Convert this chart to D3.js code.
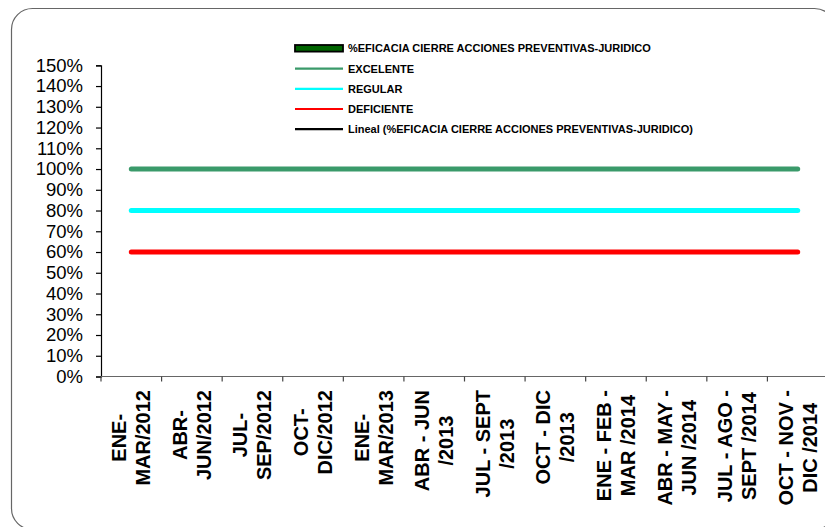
<!DOCTYPE html>
<html>
<head>
<meta charset="utf-8">
<script src="https://cdn.jsdelivr.net/npm/d3@7"></script>
<style>
  html, body { margin: 0; padding: 0; background: #fff; }
  svg { display: block; }
  text { font-family: "Liberation Sans", Arial, sans-serif; }
</style>
</head>
<body>
<svg id="chart" width="825" height="527"></svg>
<script>
// ---- data ----
const categories = [
  "ENE-\nMAR/2012", "ABR-\nJUN/2012", "JUL-\nSEP/2012", "OCT-\nDIC/2012",
  "ENE-\nMAR/2013", "ABR - JUN\n/2013", "JUL - SEPT\n/2013", "OCT - DIC\n/2013",
  "ENE - FEB -\nMAR /2014", "ABR - MAY -\nJUN /2014", "JUL - AGO -\nSEPT /2014", "OCT - NOV -\nDIC /2014"
];
const eficacia   = [null, null, null, null, null, null, null, null, null, null, null, null];
const excelente  = [1.0, 1.0, 1.0, 1.0, 1.0, 1.0, 1.0, 1.0, 1.0, 1.0, 1.0, 1.0];
const regular    = [0.8, 0.8, 0.8, 0.8, 0.8, 0.8, 0.8, 0.8, 0.8, 0.8, 0.8, 0.8];
const deficiente = [0.6, 0.6, 0.6, 0.6, 0.6, 0.6, 0.6, 0.6, 0.6, 0.6, 0.6, 0.6];
const yTicks = [0, 0.1, 0.2, 0.3, 0.4, 0.5, 0.6, 0.7, 0.8, 0.9, 1.0, 1.1, 1.2, 1.3, 1.4, 1.5];
const legendLabels = [
  "%EFICACIA CIERRE ACCIONES PREVENTIVAS-JURIDICO",
  "EXCELENTE",
  "REGULAR",
  "DEFICIENTE",
  "Lineal (%EFICACIA CIERRE ACCIONES PREVENTIVAS-JURIDICO)"
];

// ---- layout ----
const svg = d3.select("#chart");
const plot = { left: 101, top: 65.3, right: 828, bottom: 376.5 };

svg.append("rect")
  .attr("x", 11.5).attr("y", 8.5)
  .attr("width", 824).attr("height", 521)
  .attr("rx", 21).attr("ry", 21)
  .attr("fill", "#fff").attr("stroke", "#666").attr("stroke-width", 1.2);

const x = d3.scaleBand().domain(d3.range(categories.length)).range([plot.left, plot.right]).padding(0);
const y = d3.scaleLinear().domain([0, 1.5]).range([plot.bottom, plot.top]);

// y axis
const yAxis = d3.axisLeft(y).tickValues(yTicks).tickFormat(d3.format(".0%")).tickSize(5).tickPadding(13);
const gy = svg.append("g").attr("transform", `translate(${plot.left},0)`).call(yAxis);
gy.select(".domain").attr("stroke", "#000").attr("stroke-width", 1.2);
gy.selectAll(".tick line").attr("stroke", "#000").attr("stroke-width", 1.2);
gy.selectAll(".tick text").attr("font-size", "18.5px").attr("fill", "#000")
  .style("font-family", '"Liberation Sans", Arial, sans-serif');

// x axis line and ticks at band boundaries
const gx = svg.append("g");
gx.append("line")
  .attr("x1", plot.left).attr("x2", plot.right)
  .attr("y1", plot.bottom).attr("y2", plot.bottom)
  .attr("stroke", "#666").attr("stroke-width", 1.2);
gx.selectAll("line.tk").data(d3.range(categories.length + 1)).join("line")
  .attr("class", "tk")
  .attr("x1", i => plot.left + i * x.bandwidth())
  .attr("x2", i => plot.left + i * x.bandwidth())
  .attr("y1", plot.bottom).attr("y2", plot.bottom + 5)
  .attr("stroke", "#444").attr("stroke-width", 1.2);

// x labels: rotated, two lines, block top-aligned near axis, lines centered
const labelTop = 390;
const lineGap = 24;
categories.forEach((c, i) => {
  const lines = c.split("\n");
  const cx = x(i) + x.bandwidth() / 2;
  const g = gx.append("g");
  const texts = lines.map((ln, j) => g.append("text")
    .text(ln)
    .attr("font-size", "20px").attr("font-weight", "bold").attr("fill", "#000")
    .attr("text-anchor", "middle"));
  const maxW = d3.max(texts, t => t.node().getComputedTextLength());
  const cy = labelTop + maxW / 2;
  texts.forEach((t, j) => {
    const off = (j - (lines.length - 1) / 2) * lineGap;
    const px = cx + off + 7;
    t.attr("transform", `translate(${px},${cy}) rotate(-90)`);
  });
});

// series lines
const line = d3.line()
  .defined(d => d != null)
  .x((d, i) => x(i) + x.bandwidth() / 2)
  .y(d => y(d));

const seriesDefs = [
  { data: excelente, color: "#3a9a6a" },
  { data: regular, color: "#00ffff" },
  { data: deficiente, color: "#ff0000" },
  { data: eficacia, color: "#006400" }
];
seriesDefs.forEach(s => {
  svg.append("path")
    .datum(s.data)
    .attr("d", line)
    .attr("fill", "none")
    .attr("stroke", s.color)
    .attr("stroke-width", 5)
    .attr("stroke-linecap", "round");
});

// legend
const legendColors = ["#006400", "#3a9a6a", "#00ffff", "#ff0000", "#000"];
const lg = svg.append("g");
const rowY = [48.3, 68.7, 88.9, 109, 129.2];
legendLabels.forEach((lab, i) => {
  const yy = rowY[i];
  if (i === 0) {
    lg.append("rect").attr("x", 295).attr("y", yy - 3.3).attr("width", 48).attr("height", 6.6)
      .attr("fill", legendColors[i]).attr("stroke", "#000").attr("stroke-width", 1.8);
  } else {
    lg.append("line").attr("x1", 295).attr("x2", 343).attr("y1", yy).attr("y2", yy)
      .attr("stroke", legendColors[i]).attr("stroke-width", 2.2);
  }
  lg.append("text").attr("x", 348).attr("y", yy + 4)
    .attr("font-size", "11px").attr("font-weight", "bold").attr("fill", "#000")
    .text(lab);
});
</script>
</body>
</html>
